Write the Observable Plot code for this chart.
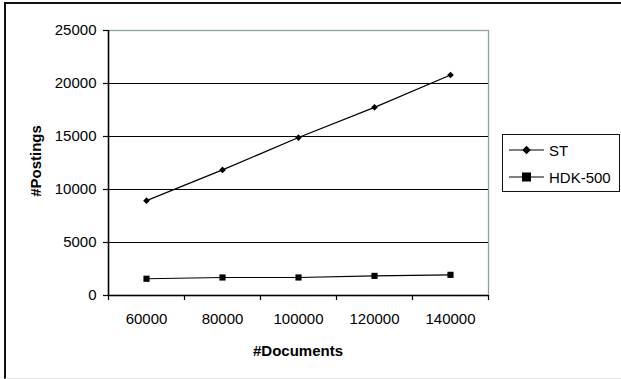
<!DOCTYPE html>
<html>
<head>
<meta charset="utf-8">
<script src="https://cdn.jsdelivr.net/npm/d3@7"></script>
<script src="https://cdn.jsdelivr.net/npm/@observablehq/plot@0.6"></script>
<style>
  html, body { margin: 0; padding: 0; background: #fff; }
  body { width: 621px; height: 379px; position: relative; overflow: hidden; font-family: "Liberation Sans", Arial, sans-serif; }
  #frame { position: absolute; left: 4px; top: 2px; width: 640px; height: 374px; border-left: 2px solid #111; border-top: 2px solid #111; border-bottom: 1px solid #e6e6e6; }
  #chart { position: absolute; left: 0; top: 0; }
  .axlabel { position: absolute; font-weight: bold; font-size: 15px; color: #000; white-space: nowrap; }
  #ylab { left: 35px; top: 161px; transform: translate(-50%, -50%) rotate(-90deg); }
  #xlab { left: 298px; top: 350px; transform: translate(-50%, -50%); }
  #legend { position: absolute; left: 502px; top: 134px; width: 116px; height: 56px; border: 1px solid #111; background: #fff; }
  .item { position: absolute; left: 6px; height: 20px; display: flex; align-items: center; font-size: 15px; }
  .item svg { margin-right: 4px; }
</style>
</head>
<body>
<div id="frame"></div>
<div id="chart"></div>
<div class="axlabel" id="ylab">#Postings</div>
<div class="axlabel" id="xlab">#Documents</div>
<div id="legend"></div>
<script>
const documents = [60000, 80000, 100000, 120000, 140000];
const stValues = [8950, 11850, 14900, 17750, 20800];
const hdkValues = [1580, 1700, 1700, 1850, 1950];
const seriesNames = ["ST", "HDK-500"];
const seriesSymbols = ["diamond2", "square"];
const yTicks = [0, 5000, 10000, 15000, 20000, 25000];
const xTickLabels = [60000, 80000, 100000, 120000, 140000];
const xTickMarks = [50000, 70000, 90000, 110000, 130000, 150000];

const data = [];
documents.forEach((d, i) => {
  data.push({docs: d, value: stValues[i], series: seriesNames[0]});
  data.push({docs: d, value: hdkValues[i], series: seriesNames[1]});
});
const gridTicks = yTicks.filter(t => t > 0 && t < 25000);
const radius = s => s === "ST" ? 3.8 : 5.1;

const chart = Plot.plot({
  width: 621,
  height: 379,
  marginLeft: 108,
  marginRight: 133,
  marginTop: 30,
  marginBottom: 84,
  style: {fontFamily: "'Liberation Sans', Arial, sans-serif", fontSize: "15px", background: "transparent", color: "#000"},
  x: {domain: [50000, 150000]},
  y: {domain: [0, 25000]},
  marks: [
    Plot.frame({stroke: "#8ea0a0", strokeWidth: 1.3}),
    Plot.ruleY(gridTicks, {stroke: "#000", strokeWidth: 1.2}),
    Plot.axisY({ticks: yTicks, tickSize: 5, tickPadding: 7, tickFormat: d => String(d), label: null, fontSize: 15, strokeWidth: 1.2}),
    Plot.axisX({ticks: xTickMarks, tickSize: 5, tickFormat: () => "", label: null, strokeWidth: 1.2}),
    Plot.axisX({ticks: xTickLabels, tickSize: 0, tickPadding: 18, tickFormat: d => String(d), label: null, fontSize: 15}),
    Plot.ruleX([50000], {stroke: "#000", strokeWidth: 1.5}),
    Plot.ruleY([0], {stroke: "#000", strokeWidth: 1.5}),
    Plot.line(data, {x: "docs", y: "value", z: "series", stroke: "#000", strokeWidth: 1.2}),
    Plot.dot(data, {x: "docs", y: "value", symbol: "series", fill: "#000", stroke: "none", r: d => radius(d.series)})
  ],
  symbol: {domain: seriesNames, range: seriesSymbols}
});
document.getElementById("chart").appendChild(chart);

// legend
const legend = document.getElementById("legend");
seriesNames.forEach((name, i) => {
  const item = document.createElement("div");
  item.className = "item";
  item.style.top = (i === 0 ? 5 : 32) + "px";
  const sym = seriesSymbols[i] === "diamond2" ? d3.symbolDiamond2 : d3.symbolSquare;
  const r = radius(name);
  const path = d3.symbol(sym, Math.PI * r * r)();
  item.innerHTML = `<svg width="36" height="20"><line x1="0" x2="35" y1="10" y2="10" stroke="#000" stroke-width="1.2"/><path d="${path}" transform="translate(17.5,10)" fill="#000"/></svg><span>${name}</span>`;
  legend.appendChild(item);
});
</script>
</body>
</html>
